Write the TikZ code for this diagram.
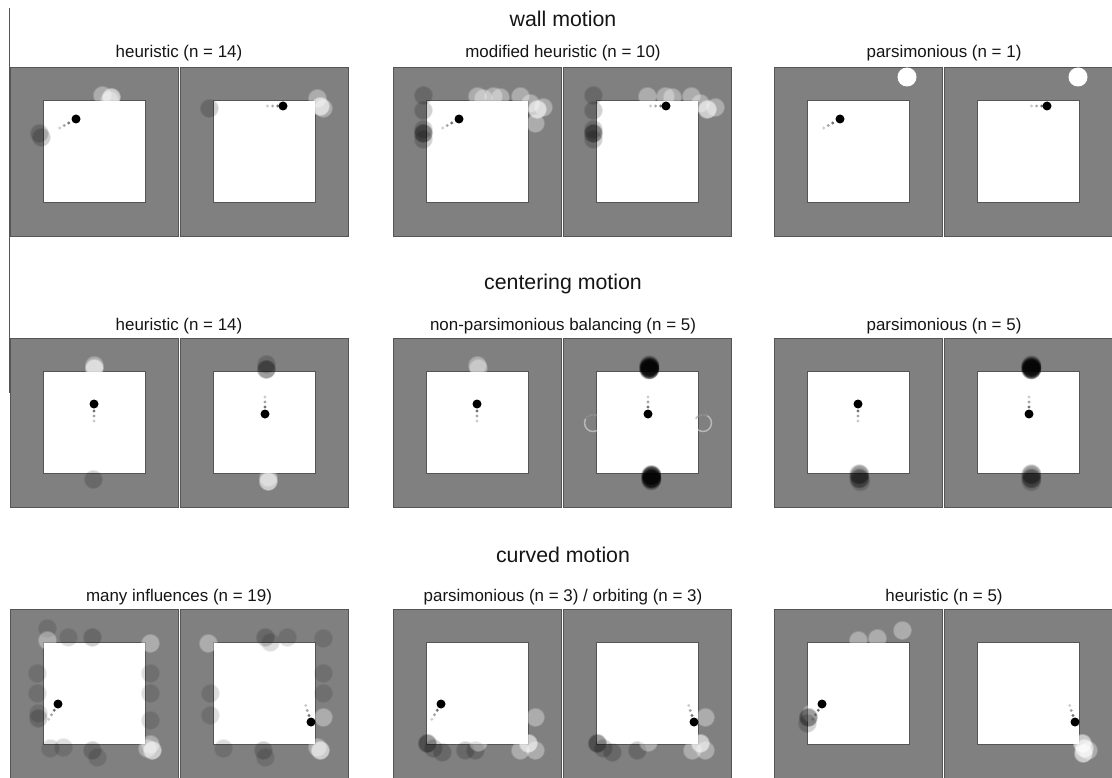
\documentclass[tikz,border=0pt]{standalone}
\usepackage{fontspec}
\setmainfont{Liberation Sans}
\usetikzlibrary{fadings}
\definecolor{ink}{HTML}{151515}
\definecolor{wallgray}{HTML}{808080}
\definecolor{edgegray}{HTML}{555555}

\begin{document}
\begin{tikzpicture}[
  x=0.75pt, y=-0.75pt,
  every node/.style={text=ink, inner sep=0pt},
  heading/.style={font=\fontsize{16}{19}\selectfont, anchor=base},
  caption/.style={font=\fontsize{12.7}{15}\selectfont, anchor=base},
  panel/.style={draw=edgegray, fill=wallgray, line width=0.6pt},
  arena/.style={draw=edgegray, fill=white, line width=0.6pt},
  agent/.style={fill=black},
  soft/.style={path fading=circle with fuzzy edge 20 percent},
  dk/.style={soft, fill=black, opacity=0.18},
  dkf/.style={soft, fill=black, opacity=0.13},
  dkk/.style={soft, fill=black, opacity=0.38},
  bk/.style={soft, fill=black, opacity=0.7},
  lt/.style={soft, fill=white, opacity=0.35},
  ltt/.style={soft, fill=white, opacity=0.6},
  wt/.style={fill=white},
  ring/.style={draw=white, opacity=0.45, line width=1.1pt}
]
\useasboundingbox (0,0) rectangle (1112,777);
\fill[white] (0,0) rectangle (1112,777);

% left frame line
\draw[edgegray, line width=0.7pt] (9.5,8) -- (9.5,393);

% --- PANELS (3 rows x 3 pairs) ---
\foreach \py in {67,338,609} {
  \foreach \px in {10,393,774} {
    \draw[panel] (\px,\py) rectangle ++(168,169);
    \draw[panel] (\px+170,\py) rectangle ++(168,169);
    \draw[arena] (\px+33,\py+33.5) rectangle ++(102,102);
    \draw[arena] (\px+203,\py+33.5) rectangle ++(102,102);
  }
}

% --- WALL MOTION ---
\node[heading] (wall) at (563,27) {wall motion};
\node[caption] (wallheur) at (179,58) {heuristic (n = 14)};
\node[caption] (wallmod) at (563,58) {modified heuristic (n = 10)};
\node[caption] (wallpars) at (944,58) {parsimonious (n = 1)};

% heuristic
\begin{scope}[shift={(10,67)}]
  \foreach \bx/\by/\s in {29/66/dk, 31/70/dk, 92/28/lt, 101/30/ltt, 99/33/lt}
    \fill[\s] (\bx,\by) circle[radius=10];
\end{scope}
\begin{scope}[shift={(180,67)}]
  \foreach \bx/\by/\s in {29/41/dk, 137/31/lt, 140/39/ltt, 143/41/lt}
    \fill[\s] (\bx,\by) circle[radius=10];
\end{scope}
% modified heuristic
\begin{scope}[shift={(393,67)}]
  \foreach \bx/\by/\s in {30/28/dk, 30/43/dk, 30/62/dk, 30/66/dkk, 30/72/dk,
      84/29/lt, 90/31/lt, 100/29/lt, 107/30/lt, 127/29/lt, 137/36/lt,
      144/42/ltt, 150/40/lt, 142/56/lt}
    \fill[\s] (\bx,\by) circle[radius=10];
\end{scope}
\begin{scope}[shift={(564,67)}]
  \foreach \bx/\by/\s in {29/28/dk, 29/43/dk, 29/62/dk, 29/66/dkk, 29/72/dk,
      83/29/lt, 101/29/lt, 108/30/lt, 127/29/lt, 136/36/lt, 143/42/ltt, 151/40/lt}
    \fill[\s] (\bx,\by) circle[radius=10];
\end{scope}
% parsimonious
\fill[wt] (774+133,77) circle[radius=9.5];
\fill[wt] (945+133,77) circle[radius=9.5];

% agents
\foreach \px in {10,393,774} {
  \foreach \k/\o in {1/0.55,2/0.35,3/0.2} {
    \fill[black, opacity=\o] ({\px+66-4.5*(\k+0.6)},{119+2.5*(\k+0.6)}) circle[radius=1.6];
    \fill[black, opacity=\o] ({\px+273-5.2*\k},106) circle[radius=1.6];
  }
  \fill[agent] (\px+66,119) circle[radius=4.5];
  \fill[agent] (\px+273,106) circle[radius=4.5];
}

% --- CENTERING MOTION ---
\node[heading] (centering) at (563,289) {centering motion};
\node[caption] (centheur) at (179,330) {heuristic (n = 14)};
\node[caption] (centbal) at (563,330) {non-parsimonious balancing (n = 5)};
\node[caption] (centpars) at (944,330) {parsimonious (n = 5)};

% heuristic
\begin{scope}[shift={(10,338)}]
  \foreach \bx/\by/\s in {84/27/lt, 84/30/ltt, 83/141/dk}
    \fill[\s] (\bx,\by) circle[radius=10];
\end{scope}
\begin{scope}[shift={(180,338)}]
  \foreach \bx/\by/\s in {86/26/dk, 86/31/dkk, 88/139/lt, 88/143/ltt}
    \fill[\s] (\bx,\by) circle[radius=10];
\end{scope}
% non-parsimonious balancing
\begin{scope}[shift={(393,338)}]
  \foreach \bx/\by/\s in {84/27/lt, 85/30/lt}
    \fill[\s] (\bx,\by) circle[radius=10];
\end{scope}
\begin{scope}[shift={(564,338)}]
  \foreach \bx/\by/\s in {85/27/dkk, 85/29/bk, 85/31/bk, 87/137/bk, 87/140/bk, 87/142/dkk}
    \fill[\s] (\bx,\by) circle[radius=10.5];
  \draw[ring] (29,85) circle[radius=8.5];
  \draw[ring] (139,85) circle[radius=8.5];
  \draw[black, opacity=0.25, line width=1.1pt] (29,85) ++(-60:8.5) arc[start angle=-60, end angle=-150, radius=8.5];
  \draw[black, opacity=0.25, line width=1.1pt] (139,85) ++(-60:8.5) arc[start angle=-60, end angle=-150, radius=8.5];
\end{scope}
% parsimonious
\begin{scope}[shift={(774,338)}]
  \foreach \bx/\by/\s in {85/136/dkk, 85/140/dkk, 86/143/dk}
    \fill[\s] (\bx,\by) circle[radius=10.5];
\end{scope}
\begin{scope}[shift={(945,338)}]
  \foreach \bx/\by/\s in {86/27/dkk, 86/29/bk, 86/31/bk, 86/136/dkk, 86/140/dkk, 86/143/dk}
    \fill[\s] (\bx,\by) circle[radius=10.5];
\end{scope}

% agents
\foreach \px in {10,393,774} {
  \foreach \k/\o in {1/0.55,2/0.35,3/0.2} {
    \fill[black, opacity=\o] (\px+84,{404+5*\k+2}) circle[radius=1.6];
    \fill[black, opacity=\o] (\px+255,{414-5*\k-2}) circle[radius=1.6];
  }
  \fill[agent] (\px+84,404) circle[radius=4.5];
  \fill[agent] (\px+255,414) circle[radius=4.5];
}

% --- CURVED MOTION ---
\node[heading] (curved) at (563,562) {curved motion};
\node[caption] (curvmany) at (179,601) {many influences (n = 19)};
\node[caption] (curvorb) at (563,601) {parsimonious (n = 3) / orbiting (n = 3)};
\node[caption] (curvheur) at (944,601) {heuristic (n = 5)};

% many influences
\begin{scope}[shift={(10,609)}]
  \foreach \bx/\by/\s in {37/19/dkf, 58/28/dkf, 82/28/dk, 37/31/lt, 27/64/dkf, 27/84/dkf,
      28/104/dkf, 28/109/dk, 140/34/lt, 140/64/dkf, 140/84/dkf, 140/111/dkf,
      40/139/dkf, 53/138/dkf, 82/141/dk, 87/148/dkf, 137/139/lt, 142/141/ltt, 140/135/lt}
    \fill[\s] (\bx,\by) circle[radius=10];
\end{scope}
\begin{scope}[shift={(180,609)}]
  \foreach \bx/\by/\s in {28/34/lt, 85/28/dk, 90/33/dkf, 107/28/dkf, 143/29/dkf, 30/84/dkf,
      30/106/dkf, 143/64/dkf, 143/84/dkf, 143/108/lt, 43/139/dkf, 83/141/dk,
      85/148/dkf, 137/138/lt, 140/141/ltt}
    \fill[\s] (\bx,\by) circle[radius=10];
\end{scope}
% parsimonious / orbiting
\begin{scope}[shift={(393,609)}]
  \foreach \bx/\by/\s in {34/134/dkk, 40/139/dk, 49/143/dk, 72/141/dk, 82/141/dk,
      85/133/lt, 127/141/lt, 135/134/ltt, 142/141/lt, 142/108/lt}
    \fill[\s] (\bx,\by) circle[radius=10];
\end{scope}
\begin{scope}[shift={(564,609)}]
  \foreach \bx/\by/\s in {33/134/dkk, 39/139/dk, 48/143/dk, 73/141/dk, 84/133/lt,
      128/141/lt, 136/134/ltt, 141/141/lt, 141/108/lt}
    \fill[\s] (\bx,\by) circle[radius=10];
\end{scope}
% heuristic
\begin{scope}[shift={(774,609)}]
  \foreach \bx/\by/\s in {84/31/lt, 103/29/lt, 128/21/lt, 37/104/lt, 34/108/dkk, 33/114/dk}
    \fill[\s] (\bx,\by) circle[radius=10];
\end{scope}
\begin{scope}[shift={(945,609)}]
  \foreach \bx/\by/\s in {137/134/ltt, 143/141/lt, 138/144/ltt, 139/139/ltt}
    \fill[\s] (\bx,\by) circle[radius=10];
\end{scope}

% agents
\foreach \px in {10,393,774} {
  \foreach \k/\o in {1/0.55,2/0.35,3/0.2} {
    \fill[black, opacity=\o] ({\px+48-2.7*(\k+0.4)},{704+4.5*(\k+0.4)}) circle[radius=1.6];
    \fill[black, opacity=\o] ({\px+301-1.6*(\k+0.3)},{722-5*(\k+0.3)}) circle[radius=1.6];
  }
  \fill[agent] (\px+48,704) circle[radius=4.5];
  \fill[agent] (\px+301,722) circle[radius=4.5];
}

\end{tikzpicture}
\end{document}
